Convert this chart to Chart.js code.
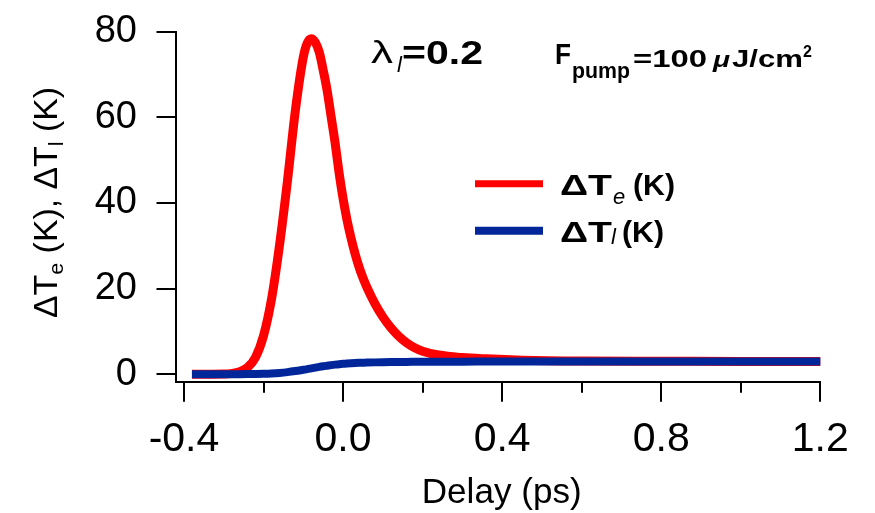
<!DOCTYPE html>
<html>
<head>
<meta charset="utf-8">
<script src="https://cdn.jsdelivr.net/npm/chart.js@4.4.1/dist/chart.umd.min.js"></script>
<style>
  html, body { margin: 0; padding: 0; background: #fff; }
  #wrap { width: 875px; height: 513px; }
</style>
</head>
<body>
<div id="wrap"><canvas id="chart" width="875" height="513"></canvas></div>
<script>
(() => {
  "use strict";

  // delay (ps) shared by both curves
  const delays = [-0.38, -0.30, -0.26, -0.24, -0.22, -0.20, -0.18, -0.16, -0.14, -0.12,
    -0.10, -0.09, -0.08, -0.07, -0.06, -0.05, -0.04, -0.03, -0.02, -0.01,
    0.00, 0.01, 0.02, 0.03, 0.04, 0.05, 0.06, 0.08, 0.10, 0.12,
    0.14, 0.16, 0.18, 0.20, 0.24, 0.30, 0.36, 0.45, 0.60, 0.80,
    1.00, 1.20];
  // electron temperature rise (K)
  const deltaTe = [0, 0.05, 0.6, 1.6, 4.0, 9.0, 17.5, 30, 45, 61.5,
    74, 77.3, 78.3, 77.5, 75.2, 71, 66.2, 60.1, 54, 47,
    41, 36, 31.8, 28.2, 25.1, 22.5, 20.3, 16.5, 13.4, 10.9,
    8.9, 7.35, 6.2, 5.4, 4.5, 3.9, 3.6, 3.3, 3.1, 3.05,
    3.0, 3.0];
  // lattice temperature rise (K)
  const deltaTl = [0, 0, 0.02, 0.04, 0.07, 0.12, 0.2, 0.32, 0.5, 0.75,
    1.05, 1.2, 1.38, 1.55, 1.72, 1.87, 2.0, 2.13, 2.25, 2.36,
    2.45, 2.52, 2.58, 2.63, 2.67, 2.70, 2.73, 2.78, 2.82, 2.85,
    2.87, 2.89, 2.9, 2.91, 2.93, 2.95, 2.96, 2.98, 3.0, 3.0,
    3.0, 3.0];

  const xTicks = [-0.4, 0, 0.4, 0.8, 1.2];
  const xMinorTicks = [-0.2, 0.2, 0.6, 1.0];
  const yTicks = [0, 20, 40, 60, 80];

  const RED = "#ff0000";
  const BLUE = "#002699";
  const FAMILY = "'Liberation Sans', Arial, Helvetica, sans-serif";

  const toPoints = (xs, ys) => xs.map((x, i) => ({ x, y: ys[i] }));

  function drawText(ctx, str, x, y, font, w, align) {
    ctx.save();
    ctx.font = font;
    ctx.textBaseline = "alphabetic";
    ctx.textAlign = align || "left";
    ctx.translate(x, y);
    if (w) {
      const nat = ctx.measureText(str).width;
      ctx.scale(w / nat, 1);
    }
    ctx.fillText(str, 0, 0);
    ctx.restore();
  }

  // keep the plot box where the reference has it
  function noEdgePadding(s) {
    s.paddingLeft = 0;
    s.paddingRight = 0;
    s.paddingTop = 0;
    s.paddingBottom = 0;
  }

  const decorations = {
    id: "decorations",
    afterDraw(chart) {
      const { ctx, chartArea } = chart;
      const xs = chart.scales.x;
      const ys = chart.scales.y;
      ctx.save();
      ctx.strokeStyle = "#000";
      ctx.fillStyle = "#000";
      ctx.lineWidth = 2;

      // tick marks, outside the axes
      ctx.beginPath();
      for (const v of yTicks) {
        const py = Math.round(ys.getPixelForValue(v));
        ctx.moveTo(chartArea.left - 19.5, py);
        ctx.lineTo(chartArea.left, py);
      }
      for (const v of xTicks) {
        const px = Math.round(xs.getPixelForValue(v));
        ctx.moveTo(px, chartArea.bottom);
        ctx.lineTo(px, chartArea.bottom + 20);
      }
      for (const v of xMinorTicks) {
        const px = Math.round(xs.getPixelForValue(v));
        ctx.moveTo(px, chartArea.bottom);
        ctx.lineTo(px, chartArea.bottom + 11);
      }
      ctx.stroke();

      // x title
      drawText(ctx, "Delay (ps)", 501.7, 502.7, `35px ${FAMILY}`, 160, "center");

      // y title with subscripts, rotated
      const parts = [["ΔT", 0], ["e", 1], [" (K), ΔT", 0], ["l", 1], [" (K)", 0]];
      const mainFont = `33px ${FAMILY}`;
      const subFont = `21px ${FAMILY}`;
      let total = 0;
      for (const [s, sub] of parts) {
        ctx.font = sub ? subFont : mainFont;
        total += ctx.measureText(s).width;
      }
      ctx.save();
      ctx.translate(57, 202.5);
      ctx.rotate(-Math.PI / 2);
      ctx.scale(231 / total, 1);
      let cx = -total / 2;
      for (const [s, sub] of parts) {
        ctx.font = sub ? subFont : mainFont;
        ctx.fillText(s, cx, sub ? 6 : 0);
        cx += ctx.measureText(s).width;
      }
      ctx.restore();

      // legend
      const legend = [
        { color: chart.data.datasets[1].borderColor, y: 183.7, w: 7, base: 195, sub: "e", subX: 613, subY: 204, kX: 633 },
        { color: chart.data.datasets[0].borderColor, y: 230.7, w: 8, base: 242, sub: "l", subX: 611, subY: 244, kX: 622 }
      ];
      for (const row of legend) {
        ctx.beginPath();
        ctx.strokeStyle = row.color;
        ctx.lineWidth = row.w;
        ctx.lineCap = "butt";
        ctx.moveTo(475, row.y);
        ctx.lineTo(543, row.y);
        ctx.stroke();
        drawText(ctx, "ΔT", 560, row.base, `bold 30px ${FAMILY}`, 52);
        drawText(ctx, row.sub, row.subX, row.subY, `italic 22px ${FAMILY}`);
        drawText(ctx, "(K)", row.kX, row.base, `bold 30px ${FAMILY}`, 42);
      }

      // annotations
      drawText(ctx, "λ", 371, 63, `32px ${FAMILY}`, 22);
      drawText(ctx, "=0.2", 402, 63.5, `bold 33px ${FAMILY}`, 81);
      drawText(ctx, "l", 397, 72, `italic 22px ${FAMILY}`);

      drawText(ctx, "F", 555, 64, `bold 30px ${FAMILY}`, 16);
      drawText(ctx, "pump", 572, 78, `bold 22px ${FAMILY}`, 58);
      drawText(ctx, "=100", 633, 67.3, `bold 23px ${FAMILY}`, 74);
      drawText(ctx, "μ", 713, 67.3, `italic bold 23px ${FAMILY}`, 17);
      drawText(ctx, "J/cm", 732, 67.3, `bold 23px ${FAMILY}`, 71);
      drawText(ctx, "2", 803, 57, `bold 16px ${FAMILY}`);

      ctx.restore();
    }
  };

  new Chart(document.getElementById("chart"), {
    type: "line",
    data: {
      datasets: [
        {
          label: "ΔTl (K)",
          data: toPoints(delays, deltaTl),
          borderColor: BLUE,
          borderWidth: 8,
          borderCapStyle: "butt",
          pointRadius: 0,
          cubicInterpolationMode: "monotone",
          fill: false,
          clip: false
        },
        {
          label: "ΔTe (K)",
          data: toPoints(delays, deltaTe),
          borderColor: RED,
          borderWidth: 9,
          borderCapStyle: "butt",
          pointRadius: 0,
          cubicInterpolationMode: "monotone",
          fill: false,
          clip: false
        }
      ]
    },
    options: {
      responsive: false,
      animation: false,
      devicePixelRatio: 1,
      layout: { padding: { top: 31.5, right: 54.7, bottom: 0, left: 0 } },
      plugins: { legend: { display: false }, tooltip: { enabled: false } },
      scales: {
        x: {
          type: "linear",
          min: -0.4201,
          max: 1.2,
          grid: { display: false },
          border: { display: true, color: "#000", width: 2 },
          afterFit: (s) => { s.height = 131.3; noEdgePadding(s); },
          afterBuildTicks: (s) => { s.ticks = xTicks.map(v => ({ value: v })); },
          ticks: {
            color: "#000",
            padding: 25,
            maxRotation: 0,
            font: { family: FAMILY, size: 41 },
            callback: (v) => Number(v).toFixed(1)
          }
        },
        y: {
          type: "linear",
          min: -1.73,
          max: 80,
          grid: { display: false },
          border: { display: true, color: "#000", width: 2 },
          afterFit: (s) => { s.width = 176; noEdgePadding(s); },
          afterBuildTicks: (s) => { s.ticks = yTicks.map(v => ({ value: v })); },
          ticks: {
            color: "#000",
            padding: 31,
            font: { family: FAMILY, size: 38 },
            callback: (v) => String(v)
          }
        }
      }
    },
    plugins: [decorations]
  });
})();
</script>
</body>
</html>
